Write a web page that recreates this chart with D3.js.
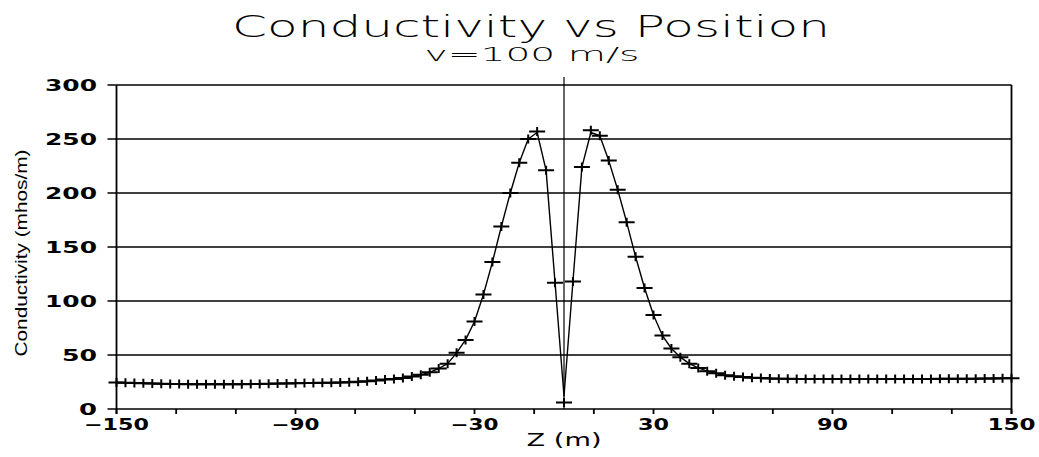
<!DOCTYPE html>
<html>
<head>
<meta charset="utf-8">
<script src="https://cdn.jsdelivr.net/npm/d3@7/dist/d3.min.js"></script>
<style>
  html, body { margin: 0; padding: 0; background: #fff; }
  svg { display: block; }
</style>
</head>
<body>
<svg id="chart" width="1039" height="457"></svg>
<script>
// ---- data -----------------------------------------------------------------
const titleText = "Conductivity vs Position";
const subtitleText = "v=100 m/s";
const xAxisTitle = "Z (m)";
const yAxisTitle = "Conductivity (mhos/m)";

const xDomain = [-150, 150];
const yDomain = [0, 300];
const xTickValues = [-150, -130, -110, -90, -70, -50, -30, -10, 10, 30, 50, 70, 90, 110, 130, 150];
const xTickLabels = [-150, -90, -30, 30, 90, 150];
const yTickValues = [0, 50, 100, 150, 200, 250, 300];

// positions of the samples (m)
const positions = [
  -150, -147, -144, -141, -138, -135, -132, -129, -126, -123,
  -120, -117, -114, -111, -108, -105, -102, -99, -96, -93,
  -90, -87, -84, -81, -78, -75, -72, -69, -66, -63,
  -60, -57, -54, -51, -48, -45, -42, -39, -36, -33,
  -30, -27, -24, -21, -18, -15, -12, -9, -6, -3,
  0,
  3, 6, 9, 12, 15, 18, 21, 24, 27, 30,
  33, 36, 39, 42, 45, 48, 51, 54, 57, 60,
  63, 66, 69, 72, 75, 78, 81, 84, 87, 90,
  93, 96, 99, 102, 105, 108, 111, 114, 117, 120,
  123, 126, 129, 132, 135, 138, 141, 144, 147, 150
];

// measured conductivity (crosses)
const measured = [
  24.5, 24.3, 24.0, 23.8, 23.6, 23.4, 23.2, 23.1, 23.0, 22.9,
  22.9, 22.9, 22.9, 23.0, 23.0, 23.1, 23.2, 23.3, 23.5, 23.7,
  23.9, 24.0, 24.1, 24.2, 24.3, 24.5, 24.8, 25.2, 25.7, 26.4,
  27.2, 27.8, 28.6, 30.0, 31.6, 34.0, 37.5, 42.0, 52.0, 64.0,
  81.0, 106.0, 136.0, 169.0, 200.0, 228.0, 250.0, 257.0, 221.0, 117.0,
  6.0,
  118.0, 224.0, 258.0, 253.0, 230.0, 203.0, 173.0, 141.0, 112.0, 87.0,
  68.0, 56.0, 48.0, 42.0, 38.0, 35.0, 33.0, 31.3, 30.3, 29.6,
  29.0, 28.6, 28.3, 28.1, 27.9, 27.8, 27.7, 27.7, 27.7, 27.7,
  27.7, 27.7, 27.7, 27.7, 27.7, 27.7, 27.7, 27.7, 27.8, 27.8,
  27.8, 27.9, 27.9, 28.0, 28.0, 28.1, 28.2, 28.3, 28.4, 28.5
];

// model curve (solid line)
const model = [
  24.5, 24.3, 24.0, 23.8, 23.6, 23.4, 23.2, 23.1, 23.0, 22.9,
  22.9, 22.9, 22.9, 23.0, 23.0, 23.1, 23.2, 23.3, 23.5, 23.7,
  23.9, 24.0, 24.1, 24.2, 24.3, 24.5, 24.8, 25.2, 25.7, 26.4,
  27.2, 27.8, 28.6, 30.0, 31.6, 34.0, 37.5, 42.0, 52.0, 64.0,
  81.0, 106.0, 136.0, 169.0, 200.0, 228.0, 250.0, 256.0, 221.0, 117.0,
  12.0,
  118.0, 224.0, 256.0, 253.0, 230.0, 203.0, 173.0, 141.0, 112.0, 87.0,
  68.0, 56.0, 48.0, 42.0, 38.0, 35.0, 33.0, 31.3, 30.3, 29.6,
  29.0, 28.6, 28.3, 28.1, 27.9, 27.8, 27.7, 27.7, 27.7, 27.7,
  27.7, 27.7, 27.7, 27.7, 27.7, 27.7, 27.7, 27.7, 27.8, 27.8,
  27.8, 27.9, 27.9, 28.0, 28.0, 28.1, 28.2, 28.3, 28.4, 28.5
];

// ---- drawing ----------------------------------------------------------------
(function () {
const svg = d3.select("#chart");
const plotLeft = 116.5, plotRight = 1011.5, plotTop = 85, plotBottom = 409;

const x = d3.scaleLinear().domain(xDomain).range([plotLeft, plotRight]);
const y = d3.scaleLinear().domain(yDomain).range([plotBottom, plotTop]);

const tickFont = "'DejaVu Sans', sans-serif";

// title
svg.append("text")
  .attr("x", 531).attr("y", 37)
  .attr("text-anchor", "middle")
  .attr("font-family", tickFont)
  .attr("font-weight", 200)
  .attr("font-size", 31)
  .attr("textLength", 598).attr("lengthAdjust", "spacingAndGlyphs")
  .text(titleText);

svg.append("text")
  .attr("x", 532).attr("y", 61)
  .attr("text-anchor", "middle")
  .attr("font-family", tickFont)
  .attr("font-weight", 300)
  .attr("font-size", 20)
  .attr("textLength", 215).attr("lengthAdjust", "spacingAndGlyphs")
  .text(subtitleText);

// horizontal grid lines
svg.append("g").selectAll("line")
  .data(yTickValues)
  .join("line")
  .attr("x1", plotLeft - 9).attr("x2", plotRight)
  .attr("y1", d => y(d)).attr("y2", d => y(d))
  .attr("stroke", "#000").attr("stroke-width", 1.6);

// frame: left axis, right border
svg.append("line")
  .attr("x1", x(xDomain[0])).attr("x2", x(xDomain[0]))
  .attr("y1", y(yDomain[1])).attr("y2", y(yDomain[0]) + 5)
  .attr("stroke", "#000").attr("stroke-width", 1.8);
svg.append("line")
  .attr("x1", x(xDomain[1])).attr("x2", x(xDomain[1]))
  .attr("y1", y(yDomain[1])).attr("y2", y(yDomain[0]) + 5)
  .attr("stroke", "#000").attr("stroke-width", 1.8);
// vertical zero line
svg.append("line")
  .attr("x1", x(0)).attr("x2", x(0))
  .attr("y1", y(yDomain[1]) - 8).attr("y2", y(yDomain[0]))
  .attr("stroke", "#000").attr("stroke-width", 1.2);

// x ticks
svg.append("g").selectAll("line")
  .data(xTickValues)
  .join("line")
  .attr("x1", d => x(d)).attr("x2", d => x(d))
  .attr("y1", y(0)).attr("y2", y(0) + 5)
  .attr("stroke", "#000").attr("stroke-width", 1.8);

// x tick labels
const fmt = d => (d < 0 ? "\u2212" + Math.abs(d) : String(d));
svg.append("g").selectAll("text")
  .data(xTickLabels)
  .join("text")
  .attr("x", d => x(d)).attr("y", 430)
  .attr("text-anchor", "middle")
  .attr("font-family", tickFont)
  .attr("font-weight", "bold")
  .attr("font-size", 15)
  .attr("textLength", d => fmt(d).length * 17 - 3)
  .attr("lengthAdjust", "spacingAndGlyphs")
  .text(fmt);

// y tick labels
svg.append("g").selectAll("text")
  .data(yTickValues)
  .join("text")
  .attr("x", 97).attr("y", d => y(d) + 5.5)
  .attr("text-anchor", "end")
  .attr("font-family", tickFont)
  .attr("font-weight", "bold")
  .attr("font-size", 15)
  .attr("textLength", d => String(d).length * 17 + 1)
  .attr("lengthAdjust", "spacingAndGlyphs")
  .text(d => String(d));

// axis titles
svg.append("text")
  .attr("x", 564).attr("y", 446)
  .attr("text-anchor", "middle")
  .attr("font-family", tickFont)
  .attr("font-weight", 500)
  .attr("font-size", 18)
  .attr("textLength", 75).attr("lengthAdjust", "spacingAndGlyphs")
  .text(xAxisTitle);

svg.append("text")
  .attr("transform", "translate(27,253) rotate(-90)")
  .attr("text-anchor", "middle")
  .attr("font-family", "'Liberation Sans Narrow', 'Liberation Sans', sans-serif")
  .attr("font-size", 17)
  .attr("textLength", 207).attr("lengthAdjust", "spacingAndGlyphs")
  .text(yAxisTitle);

// model line
const lineData = positions.map((p, i) => [p, model[i]]);
svg.append("path")
  .datum(lineData)
  .attr("fill", "none")
  .attr("stroke", "#000")
  .attr("stroke-width", 1.4)
  .attr("stroke-linejoin", "round")
  .attr("d", d3.line().x(d => x(d[0])).y(d => y(d[1])));

// measured crosses
const ptData = positions.map((p, i) => [p, measured[i]]);
const crosses = svg.append("g").attr("stroke", "#000").attr("stroke-width", 2);
crosses.selectAll("path")
  .data(ptData)
  .join("path")
  .attr("d", d => {
    const cx = x(d[0]), cy = y(d[1]);
    return `M${cx - 8},${cy}H${cx + 8}M${cx},${cy - 4.5}V${cy + 4.5}`;
  });
})();
</script>
</body>
</html>
